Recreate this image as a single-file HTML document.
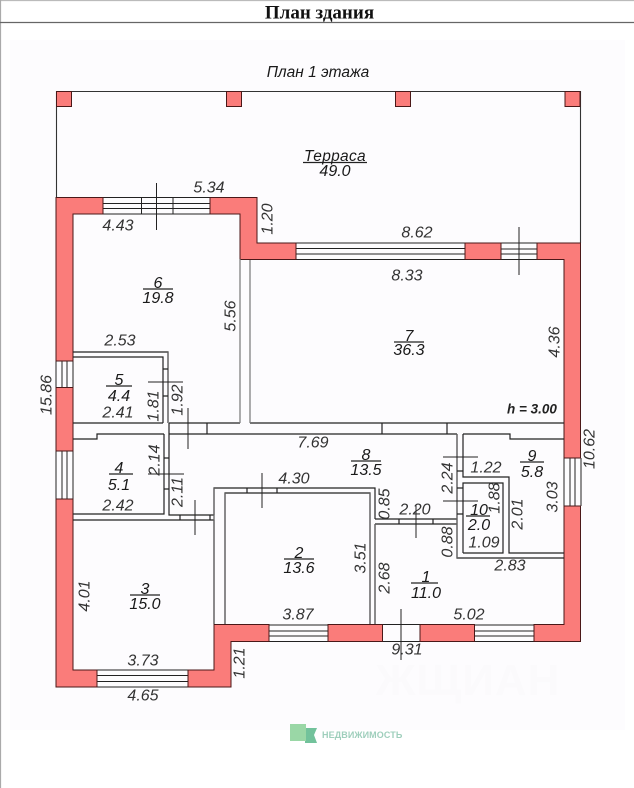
<!DOCTYPE html>
<html><head><meta charset="utf-8"><style>
html,body{margin:0;padding:0;background:#fff}
svg{display:block}
.d{font:italic 16px "Liberation Sans","DejaVu Sans",sans-serif;letter-spacing:0;fill:#333;text-anchor:middle;dominant-baseline:central}
.l{font:italic 16px "Liberation Sans",sans-serif;letter-spacing:0;fill:#1a1a1a;text-anchor:middle}
.w{fill:#fa7c7a;stroke:#4a1818;stroke-width:1}
.t{stroke:#222;stroke-width:1.2;fill:none}
.g{stroke:#777;stroke-width:1.2;fill:none}
.c{stroke:#222;stroke-width:1;fill:none}
</style></head><body>
<svg width="634" height="788" viewBox="0 0 634 788" xmlns="http://www.w3.org/2000/svg">
<rect width="634" height="788" fill="#fff"/>
<rect x="10" y="40" width="615" height="690" fill="#fdfcfe"/>
<path d="M0 .5H634" stroke="#bbb" stroke-width="1.2"/>
<path d="M.5 0V788" stroke="#aaa" stroke-width="1.2"/>
<path d="M0 22.5H634" stroke="#666" stroke-width="1.2"/>
<text x="319.500" y="18.500" text-anchor="middle" style="font:bold 19px 'Liberation Serif','Noto Serif CJK SC',serif" fill="#111">План здания</text>
<text x="318" y="77" class="l" style="font-size:15.500px">План 1 этажа</text>

<!-- terrace -->
<path d="M56 91.500H580M56.500 91V197M580.500 91V243" stroke="#333" stroke-width="1.1" fill="none"/>
<rect class="w" x="56.500" y="91.500" width="15" height="15"/>
<rect class="w" x="226.500" y="91.500" width="15" height="15"/>
<rect class="w" x="395.500" y="91.500" width="15" height="15"/>
<rect class="w" x="565" y="91.500" width="15" height="15"/>

<!-- window lines -->
<g stroke="#222" stroke-width="1" fill="none">
<path d="M103 197.500H210M103 203.500H210M103 208.500H210M103 214H210M141.500 197V214M173 197V214"/>
<path d="M296 243H465M296 248.500H465M296 254H465M296 259.500H465"/>
<path d="M501 243H537M501 249H537M501 254H537M501 259.500H537"/>
<path d="M97 670H188M97 675.500H188M97 681.500H188M97 687H188"/>
<path d="M269 625H328M269 631H328M269 636H328M269 641.500H328"/>
<path d="M475 625H534M475 631H534M475 636H534M475 641.500H534"/>
<path d="M383 624.500H420M383 641.500H420"/>
<path d="M56 361V388M62 361V388M67 361V388M73 361V388"/>
<path d="M56 451V499M62 451V499M67 451V499M73 451V499"/>
<path d="M564 458V506M570 458V506M575 458V506M581 458V506"/>
</g>

<!-- walls -->
<path class="w" d="M56 197.500H103V214H73V361H56Z"/>
<rect class="w" x="56" y="387.500" width="17" height="63.500"/>
<path class="w" d="M56 499H73V670H97V687H56Z"/>
<path class="w" d="M210 197.500H257V243H296V259.500H240V214H210Z"/>
<rect class="w" x="465" y="243" width="36" height="16.500"/>
<path class="w" d="M537 243H580.500V458H564V259.500H537Z"/>
<path class="w" d="M564 506H580.500V641.500H534V624.500H564Z"/>
<rect class="w" x="420" y="624.500" width="54.500" height="17"/>
<path class="w" d="M214 624.500H269V641.500H231V687H188V670H214Z"/>
<rect class="w" x="328" y="624.500" width="54.500" height="17"/>

<!-- interior walls -->
<g class="t">
<path d="M73 352H168V423M73 357H163V423"/>
<path d="M73 423H163M169 423H240M250 423H564"/>
<path d="M169 434H457M73 439H97V434H164"/>
<path d="M164 434V514H73M169 434V515H214M73 520H214"/>
<path d="M214 515V488H375V519M225 624V493H370V624M214 520V624"/>
<path d="M375 519H457M375 524H457M375 524V624"/>
<path d="M457 434V558H564M463 434V477H509V553H564M463 553H503V483H463V553"/>
<path d="M463 434H510V439H564"/>
</g>
<path d="M240 259V423M250 260V423" class="g"/>
<path d="M168 352V423M214 488V624M225 493V624M370 493V624M375 524V624M457 434V558" stroke="#666" stroke-width="1.3" fill="none"/>
<g class="t">
<path d="M169 423V434M207 423V434M382 423V434M447 423V434"/>
<path d="M163 369H168M163 396H168M164 458H169M164 489H169"/>
<path d="M180 515V520M210 515V520M247 488V493M277 488V493"/>
<path d="M399 519V524M433 519V524M457 471H463M457 488H463M457 514H463"/>
</g>
<!-- crosses -->
<g class="c">
<path d="M156.500 183V230M519 227V275M401 609V660"/>
<path d="M148 382H183M188 408V449M148 474H184M195 500V535"/>
<path d="M262 473V508M416 505V538M443 457H478M443 501H478"/>
</g>

<!-- room labels -->
<g stroke="#222" stroke-width="1.300">
<path d="M303 162.500H367M143 289H173M394 342H424M106 386H132M109 474H133M351 461H381M520 462H544M466 516H490M411 583H438M284 559H314M130 595H160"/>
</g>
<g class="l">
<text x="335" y="161" style="letter-spacing:.3px;font-size:15.500px">Терраса</text><text x="335" y="176">49.0</text>
<text x="158" y="288">6</text><text x="158" y="303">19.8</text>
<text x="409" y="341">7</text><text x="409" y="355">36.3</text>
<text x="119" y="385">5</text><text x="119" y="401">4.4</text>
<text x="119" y="473">4</text><text x="119" y="490">5.1</text>
<text x="366" y="460">8</text><text x="366" y="475">13.5</text>
<text x="532" y="461">9</text><text x="532" y="477">5.8</text>
<text x="479" y="515">10</text><text x="479" y="530">2.0</text>
<text x="426" y="582">1</text><text x="426" y="598">11.0</text>
<text x="299" y="558">2</text><text x="299" y="573">13.6</text>
<text x="145" y="594">3</text><text x="145" y="609">15.0</text>
</g>

<!-- dimensions -->
<g class="d">
<text x="209" y="188">5.34</text><text x="118" y="226">4.43</text>
<text x="417" y="233">8.62</text><text x="407" y="276">8.33</text>
<text x="120" y="341">2.53</text><text x="118" y="413">2.41</text>
<text x="118" y="506">2.42</text><text x="313" y="443">7.69</text>
<text x="294" y="479">4.30</text><text x="415" y="510">2.20</text>
<text x="486" y="468">1.22</text><text x="484" y="543">1.09</text>
<text x="510" y="566">2.83</text><text x="143" y="661">3.73</text>
<text x="143" y="696">4.65</text><text x="298" y="615">3.87</text>
<text x="469" y="615">5.02</text><text x="407" y="650">9.31</text>
<text x="532" y="409" style="font-size:13.500px;font-weight:bold;fill:#222">h = 3.00</text>
<text transform="translate(268 219) rotate(-90)">1.20</text>
<text transform="translate(231 316) rotate(-90)">5.56</text>
<text transform="translate(555 342) rotate(-90)">4.36</text>
<text transform="translate(154 406) rotate(-90)">1.81</text>
<text transform="translate(178 400) rotate(-90)">1.92</text>
<text transform="translate(47 395) rotate(-90)">15.86</text>
<text transform="translate(155 460) rotate(-90)">2.14</text>
<text transform="translate(178 492) rotate(-90)">2.11</text>
<text transform="translate(385 504) rotate(-90)">0.85</text>
<text transform="translate(448 478) rotate(-90)">2.24</text>
<text transform="translate(495 498) rotate(-90)">1.88</text>
<text transform="translate(518 514) rotate(-90)">2.01</text>
<text transform="translate(448 542) rotate(-90)">0.88</text>
<text transform="translate(553 497) rotate(-90)">3.03</text>
<text transform="translate(590 449) rotate(-90)">10.62</text>
<text transform="translate(385 578) rotate(-90)">2.68</text>
<text transform="translate(361 558) rotate(-90)">3.51</text>
<text transform="translate(85 596) rotate(-90)">4.01</text>
<text transform="translate(240 663) rotate(-90)">1.21</text>
</g>

<!-- watermark + logo -->
<text x="468" y="695" text-anchor="middle" style="font:bold 44px 'Liberation Sans',sans-serif;letter-spacing:1px" fill="#fbfafc">ЖЩИАН</text>
<path d="M305 728H317L314 735L317 743H305Z" fill="#72c29b"/>
<rect x="290" y="724" width="16" height="17" fill="#9ad7a6"/>
<text x="322" y="738" style="font:bold 9px 'Liberation Sans',sans-serif;letter-spacing:.1px" fill="#9fcfbc">НЕДВИЖИМОСТЬ</text>
</svg>
</body></html>
